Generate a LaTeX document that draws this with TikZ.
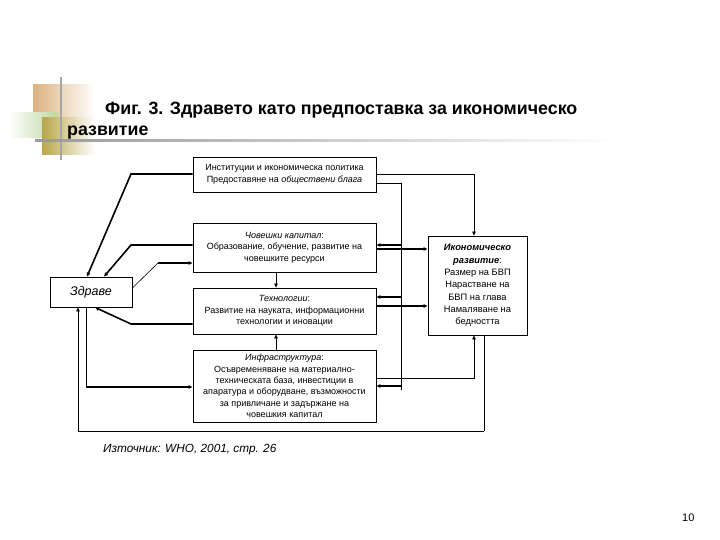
\documentclass[tikz,border=0pt]{standalone}
\usepackage{fontspec}
\setmainfont{Liberation Sans}
\usetikzlibrary{arrows.meta,calc}
\tikzset{
  box/.style={draw,line width=0.8pt,inner sep=1pt,align=center,font=\fontsize{9}{11.4}\selectfont},
  thin/.style={line width=0.6pt},
  thick2/.style={line width=1.6pt},
  arr/.style={-{Triangle[length=4pt,width=3.5pt]}},
}
\begin{document}
\begin{tikzpicture}[x=1pt,y=-1pt]
\useasboundingbox (0,0) rectangle (720,540);
% decoration
\shade[left color={rgb,255:red,220;green,178;blue,128},right color=white] (33,85) rectangle (95,120);
\shade[left color=white,right color={rgb,255:red,190;green,215;blue,160}] (8,113) rectangle (58,138);
\shade[left color={rgb,255:red,185;green,165;blue,75},right color=white] (42,118) rectangle (95,155);
\fill[gray!70] (60.3,77) rectangle (62,160);
\shade[left color=gray!80,right color=white] (35,140) rectangle (620,141.6);
% title
\node[anchor=base west,inner sep=0,font=\fontsize{17.8}{19}\selectfont\bfseries] (t1) at (105,115) {Фиг. 3. Здравето като предпоставка за икономическо};
\node[anchor=base west,inner sep=0,font=\fontsize{17.8}{19}\selectfont\bfseries] (t2) at (67,136) {развитие};
% boxes
\node[box,minimum width=183,minimum height=35] (b1) at (284.5,174.5) {Институции и икономическа политика\\Предоставяне на \textit{обществени блага}};
\node[box,minimum width=183,minimum height=49] (b2) at (284.5,247.5) {\textit{Човешки капитал}:\\Образование, обучение, развитие на\\човешките ресурси};
\node[box,minimum width=183,minimum height=46] (b3) at (284.5,311) {\textit{Технологии}:\\Развитие на науката, информационни\\технологии и иновации};
\node[box,minimum width=183,minimum height=72] (b4) at (284.5,386) {\textit{Инфраструктура}:\\Осъвременяване на материално-\\техническата база, инвестиции в\\апаратура и оборудване, възможности\\за привличане и задържане на\\човешкия капитал};
\node[box,minimum width=99,minimum height=99,font=\fontsize{9.3}{12.3}\selectfont] (ik) at (477.5,285.5) {\textbf{\textit{Икономическо}}\\\textbf{\textit{развитие}}:\\Размер на БВП\\Нарастване на\\БВП на глава\\Намаляване на\\бедността};
\node[box,minimum width=82,minimum height=30,font=\fontsize{12.5}{14}\selectfont\itshape] (zd) at (91,292) {Здраве};
% helper coordinates
\coordinate (k1) at (131,174);
\coordinate (k2) at (131,245);
\coordinate (k3) at (158,263);
\coordinate (k4) at (131,324);
\coordinate (k5) at (86,387);
\coordinate (r1) at (474,174);
\coordinate (r2) at (401,183);
\coordinate (r3) at (401,390);
\coordinate (r4) at (474,378);
\coordinate (bl) at (78,431);
\coordinate (br) at (484,431);
% left connectors
\draw[thick2,arr] (b1.west |- k1) -- (k1) -- (zd.north west -| 87,0);
\draw[thick2,arr] (b2.west |- k2) -- (k2) -- (zd.north west -| 104,0);
\draw[thin] (zd.east |- 0,288) -- (k3);
\draw[thick2,arr] (k3) -- (b2.west |- k3);
\draw[thick2,arr] (b3.west |- k4) -- (k4) -- (zd.south west -| 95,0);
\draw[thin] (zd.south west -| k5) -- (k5);
\draw[thick2,arr] (k5) -- (b4.west |- k5);
\draw[thin,arr] (br) -- (bl) -- (zd.south west -| bl);
\draw[thin] (ik.south west -| br) -- (br);
% vertical between boxes
\draw[thin,arr] (b2.south -| 276,0) -- (b3.north -| 276,0);
\draw[thin,arr] (b4.north -| 276,0) -- (b3.south -| 276,0);
% right connectors
\draw[thin,arr] (b1.east |- r1) -- (r1) -- (ik.north -| r1);
\draw[thin] (b1.east |- r2) -- (r2) -- (r3);
\draw[thick2,arr] (r2 |- 0,245) -- (b2.east |- 0,245);
\draw[thick2,arr] (b2.east |- 0,249) -- (ik.west |- 0,249);
\draw[thick2,arr] (r2 |- 0,297) -- (b3.east |- 0,297);
\draw[thick2,arr] (b3.east |- 0,306) -- (ik.west |- 0,306);
\draw[thin,arr] (b4.east |- r4) -- (r4) -- (ik.south -| r4);
\draw[thick2,arr] (r2 |- 0,386) -- (b4.east |- 0,386);
% source and page
\node[anchor=base west,inner sep=0,font=\fontsize{11.8}{13}\selectfont\itshape] (src) at (103,452) {Източник: WHO, 2001, стр. 26};
\node[anchor=base west,inner sep=0,font=\fontsize{11}{13}\selectfont] (pg) at (682,521) {10};
\end{tikzpicture}
\end{document}
